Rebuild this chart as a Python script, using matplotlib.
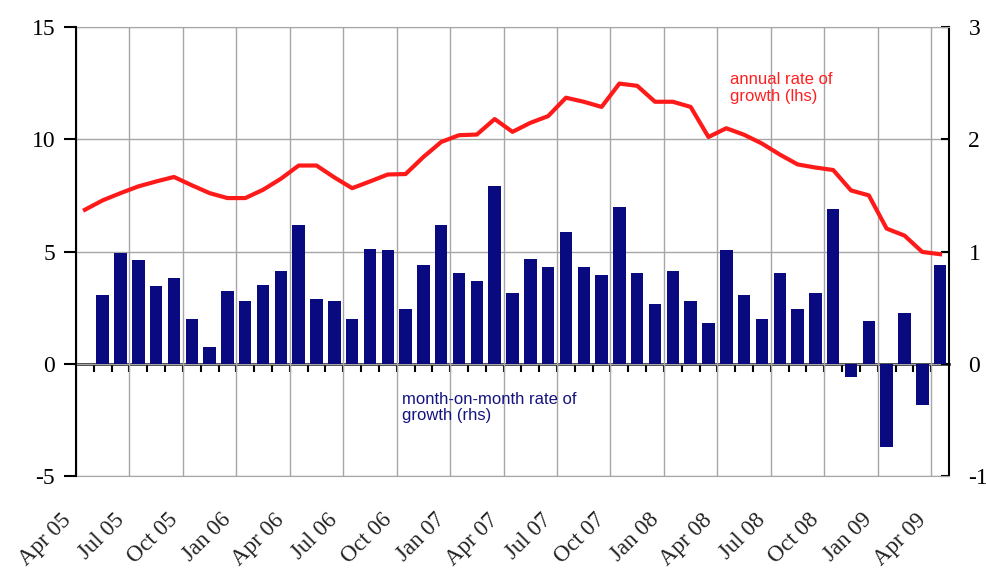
import numpy as np
import matplotlib
matplotlib.use('Agg')
import matplotlib.pyplot as plt
import matplotlib.transforms as mtransforms

plt.rcParams['axes.unicode_minus'] = False

# annual rate of growth (lhs), Apr 05 .. Apr 09
annual_growth = [6.86, 7.28, 7.60, 7.90, 8.12, 8.32, 7.95, 7.60, 7.38, 7.38,
                 7.75, 8.24, 8.83, 8.83, 8.30, 7.82, 8.12, 8.43, 8.45, 9.21,
                 9.88, 10.18, 10.21, 10.90, 10.33, 10.73, 11.03, 11.85, 11.67, 11.44,
                 12.48, 12.38, 11.67, 11.67, 11.44, 10.10, 10.49, 10.20, 9.81, 9.32,
                 8.88, 8.74, 8.63, 7.72, 7.50, 6.02, 5.71, 4.98, 4.88]

# month-on-month rate of growth (rhs), May 05 .. Apr 09
mom_growth = [0.61, 0.99, 0.92, 0.69, 0.76, 0.40, 0.15, 0.65, 0.56, 0.70,
              0.83, 1.24, 0.58, 0.56, 0.40, 1.02, 1.01, 0.49, 0.88, 1.24,
              0.81, 0.74, 1.58, 0.63, 0.93, 0.86, 1.17, 0.86, 0.79, 1.40,
              0.81, 0.53, 0.83, 0.56, 0.36, 1.01, 0.61, 0.40, 0.81, 0.49,
              0.63, 1.38, -0.12, 0.38, -0.74, 0.45, -0.365, 0.88]

tick_labels = ['Apr 05', 'Jul 05', 'Oct 05', 'Jan 06', 'Apr 06', 'Jul 06',
               'Oct 06', 'Jan 07', 'Apr 07', 'Jul 07', 'Oct 07', 'Jan 08',
               'Apr 08', 'Jul 08', 'Oct 08', 'Jan 09', 'Apr 09']

n_months = len(annual_growth)
x_line = np.arange(n_months)
x_bar = np.arange(n_months - len(mom_growth), n_months)

serif = 'Liberation Serif'
sans = 'Liberation Sans'
grid_col = '#a6a6a6'

fig = plt.figure(figsize=(9.87, 5.71), dpi=100)
ax = fig.add_axes([76 / 987, 1 - 476 / 571, 873 / 987, 449 / 571])
ax2 = ax.twinx()

# bars on the right-hand scale, drawn underneath
ax.bar(x_bar, mom_growth, width=0.7, color='#0a0a80', zorder=2)
ax.set_ylim(-1, 3)
ax.set_yticks([-1, 0, 1, 2, 3])
ax.yaxis.tick_right()
ax.tick_params(axis='y', direction='in', length=6, width=1.5, pad=14,
               labelsize=17, labelfontfamily=serif)
ax.set_xlim(-0.5, n_months - 0.5)
ax.set_xticks(np.arange(0, n_months, 3) - 0.5)
ax.set_xticklabels(tick_labels, rotation=45, ha='right', va='top',
                   rotation_mode='anchor', fontsize=16.5, family=serif,
                   color='#222222')
ax.tick_params(axis='x', length=0, pad=24)
ax.grid(True, color=grid_col, linewidth=1)
ax.set_axisbelow(True)
off = mtransforms.ScaledTranslation(-16 / 100, 0, fig.dpi_scale_trans)
for lab in ax.get_xticklabels():
    lab.set_transform(lab.get_transform() + off)

for s in ['top', 'bottom']:
    ax.spines[s].set_color(grid_col)
ax.spines['right'].set_linewidth(1.5)
ax.spines['left'].set_visible(False)

# zero line with category tick marks
zero_axis = ax.secondary_xaxis(0.25)
zero_axis.set_xticks(np.arange(1, n_months) - 0.5)
zero_axis.tick_params(axis='x', direction='out', length=6, width=1.5,
                      labelbottom=False)
zero_axis.spines['bottom'].set_linewidth(1.8)

# line on the left-hand scale, drawn on top
ax2.plot(x_line, annual_growth, color='#ff1a1a', linewidth=3,
         solid_joinstyle='round', zorder=3)
ax2.set_ylim(-5, 15)
ax2.set_yticks([-5, 0, 5, 10, 15])
ax2.yaxis.tick_left()
ax2.tick_params(axis='y', direction='out', length=9, width=1.5, pad=6,
                labelsize=17, labelfontfamily=serif)
for s in ['top', 'bottom', 'right']:
    ax2.spines[s].set_visible(False)
ax2.spines['left'].set_linewidth(1.5)
ax2.spines['left'].set_visible(True)

ax2.text(0.749, 0.899, 'annual rate of\ngrowth (lhs)', transform=ax2.transAxes,
         color='#ff2020', fontsize=12, family=sans, ha='left', va='top',
         linespacing=1.15)
ax2.text(0.373, 0.188, 'month-on-month rate of\ngrowth (rhs)', transform=ax2.transAxes,
         color='#141480', fontsize=12, family=sans, ha='left', va='top',
         linespacing=1.15)

fig.savefig('out.png', dpi=100)
